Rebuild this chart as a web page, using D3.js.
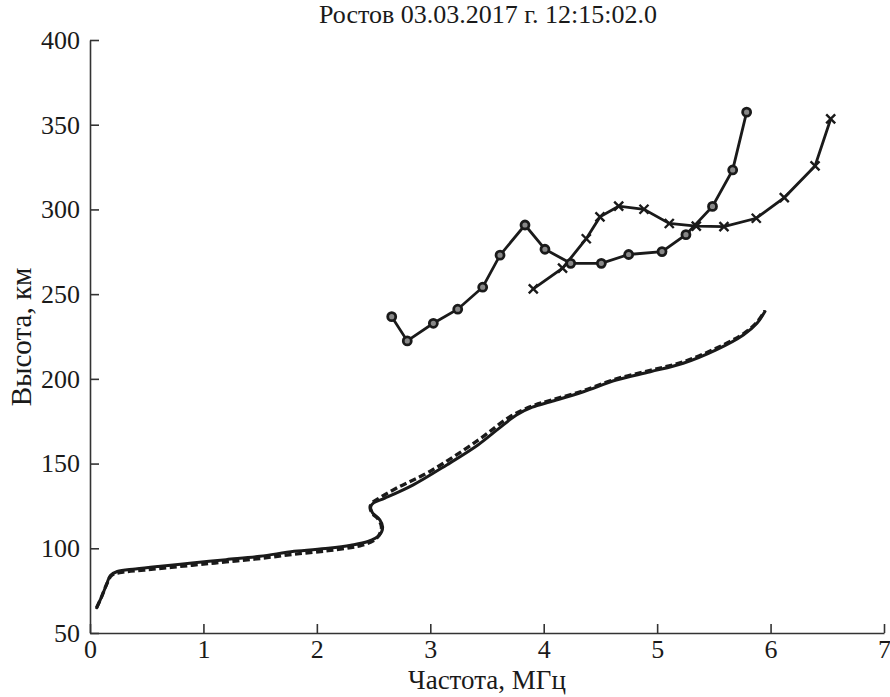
<!DOCTYPE html>
<html>
<head>
<meta charset="utf-8">
<script src="https://cdn.jsdelivr.net/npm/d3@7"></script>
<style>
  html, body { margin: 0; padding: 0; background: #fff; }
  svg { display: block; }
  text { font-family: "Liberation Serif", "DejaVu Serif", serif; fill: #1a1a1a; }
</style>
</head>
<body>
<svg id="chart" width="890" height="697"></svg>
<script>
// Ionogram-derived height profiles, Rostov 03.03.2017 12:15:02
const titleText = "Ростов 03.03.2017 г. 12:15:02.0";
const xLabel = "Частота, МГц";
const yLabel = "Высота, км";
const xTicks = [0, 1, 2, 3, 4, 5, 6, 7];
const yTicks = [50, 100, 150, 200, 250, 300, 350, 400];

// Profile (solid)
const solidFreq = [0.059, 0.10, 0.145, 0.18, 0.24, 0.4, 0.6, 0.9, 1.2, 1.5, 1.8, 2.1, 2.3, 2.45, 2.55, 2.58, 2.555, 2.49, 2.475, 2.50, 2.60, 2.85, 3.145, 3.42, 3.60, 3.76, 3.90, 4.06, 4.35, 4.64, 4.94, 5.23, 5.52, 5.76, 5.88, 5.95];
const solidHeight = [64.9, 71, 78.5, 84, 86.3, 87.8, 89.3, 91.3, 93.3, 95.3, 98.2, 100.0, 101.8, 104.0, 107.5, 112.5, 116.8, 121.0, 124.6, 126.8, 129.6, 137.4, 149.2, 161.0, 170.5, 178.7, 183.3, 186.5, 192.4, 199.3, 204.2, 209.2, 217.1, 225.9, 232.8, 239.7];

// Profile (dashed)
const dashedFreq = [0.059, 0.10, 0.145, 0.19, 0.26, 0.5, 0.9, 1.2, 1.5, 1.8, 2.1, 2.3, 2.40, 2.50, 2.55, 2.57, 2.545, 2.485, 2.47, 2.49, 2.53, 2.70, 3.00, 3.41, 3.70, 3.90, 4.06, 4.35, 4.64, 4.94, 5.23, 5.52, 5.76, 5.88, 5.95];
const dashedHeight = [65.0, 71, 78.5, 84, 85.6, 87.3, 90.0, 92.0, 94.0, 96.5, 98.6, 100.4, 101.8, 104.5, 108, 112.5, 116.8, 121, 124.5, 127, 128.8, 135.4, 145.5, 163.2, 177.5, 184.0, 187.3, 193.0, 200.0, 205.0, 210.0, 218.0, 226.6, 233.4, 240.2];

// Series with circle markers
const circleFreq = [2.66, 2.797, 3.027, 3.242, 3.462, 3.615, 3.835, 4.011, 4.238, 4.508, 4.749, 5.043, 5.254, 5.488, 5.666, 5.789];
const circleHeight = [236.7, 222.4, 232.8, 241.1, 254.1, 273.0, 290.8, 276.5, 268.2, 268.2, 273.4, 275.1, 285.1, 301.8, 323.3, 357.4];

// Series with cross markers
const crossFreq = [3.908, 4.166, 4.375, 4.496, 4.661, 4.884, 5.107, 5.345, 5.589, 5.874, 6.121, 6.392, 6.530];
const crossHeight = [253.1, 265.3, 282.7, 295.6, 301.9, 300.1, 291.7, 290.1, 289.8, 294.8, 307.0, 325.7, 353.4];

const svg = d3.select("#chart");
const ink = "#1a1a1a";
const axisInk = "#333";
const serif = "'Liberation Serif', 'DejaVu Serif', serif";

const x = d3.scaleLinear().domain([0, 7]).range([90, 884]);
const y = d3.scaleLinear().domain([50, 400]).range([633, 40]);

// Axes: left and bottom only, ticks pointing inward
const xAxis = d3.axisBottom(x).tickValues(xTicks).tickFormat(d3.format("d")).tickSizeInner(-9).tickSizeOuter(0).tickPadding(7);
const yAxis = d3.axisLeft(y).tickValues(yTicks).tickFormat(d3.format("d")).tickSizeInner(-9).tickSizeOuter(0).tickPadding(10);

const gx = svg.append("g").attr("transform", `translate(0,${y(50)})`).call(xAxis);
const gy = svg.append("g").attr("transform", `translate(${x(0)},0)`).call(yAxis);

[gx, gy].forEach(g => {
  g.attr("font-family", serif).attr("font-size", 26);
  g.select(".domain").attr("stroke", axisInk).attr("stroke-width", 1.6);
  g.selectAll(".tick line").attr("stroke", axisInk).attr("stroke-width", 1.6);
  g.selectAll(".tick text")
    .style("font-family", serif).style("font-size", "26px").attr("fill", ink);
});

// Profile curves
const line = d3.line().x(d => x(d[0])).y(d => y(d[1])).curve(d3.curveCatmullRom.alpha(0.5));
const solidData = solidFreq.map((f, i) => [f, solidHeight[i]]);
const dashedData = dashedFreq.map((f, i) => [f, dashedHeight[i]]);

svg.append("path").datum(dashedData)
  .attr("d", line).attr("fill", "none").attr("stroke", ink)
  .attr("stroke-width", 3.4).attr("stroke-dasharray", "7,3.5");

svg.append("path").datum(solidData)
  .attr("d", line).attr("fill", "none").attr("stroke", ink)
  .attr("stroke-width", 3).attr("stroke-linejoin", "round").attr("stroke-linecap", "round");

// Marker series
const straight = d3.line().x(d => x(d[0])).y(d => y(d[1]));
const circleData = circleFreq.map((f, i) => [f, circleHeight[i]]);
const crossData = crossFreq.map((f, i) => [f, crossHeight[i]]);

svg.append("path").datum(crossData)
  .attr("d", straight).attr("fill", "none").attr("stroke", ink).attr("stroke-width", 2.8);
svg.append("path").datum(circleData)
  .attr("d", straight).attr("fill", "none").attr("stroke", ink).attr("stroke-width", 2.8);

const cs = 4.5;
svg.append("g").selectAll("path").data(crossData).join("path")
  .attr("d", d => {
    const cx = x(d[0]), cy = y(d[1]);
    return `M${cx - cs},${cy - cs}L${cx + cs},${cy + cs}M${cx - cs},${cy + cs}L${cx + cs},${cy - cs}`;
  })
  .attr("stroke", ink).attr("stroke-width", 2.4).attr("fill", "none");

svg.append("g").selectAll("circle").data(circleData).join("circle")
  .attr("cx", d => x(d[0])).attr("cy", d => y(d[1])).attr("r", 4)
  .attr("fill", "#888").attr("stroke", ink).attr("stroke-width", 2.8);

// Title and axis labels
svg.append("text").attr("x", 488).attr("y", 23).attr("text-anchor", "middle")
  .style("font-family", serif).style("font-size", "26px").text(titleText);

svg.append("text").attr("x", 487).attr("y", 689).attr("text-anchor", "middle")
  .style("font-family", serif).style("font-size", "27px").text(xLabel);

svg.append("text").attr("transform", `translate(31,337) rotate(-90)`).attr("text-anchor", "middle")
  .style("font-family", serif).style("font-size", "29px").text(yLabel);
</script>
</body>
</html>
